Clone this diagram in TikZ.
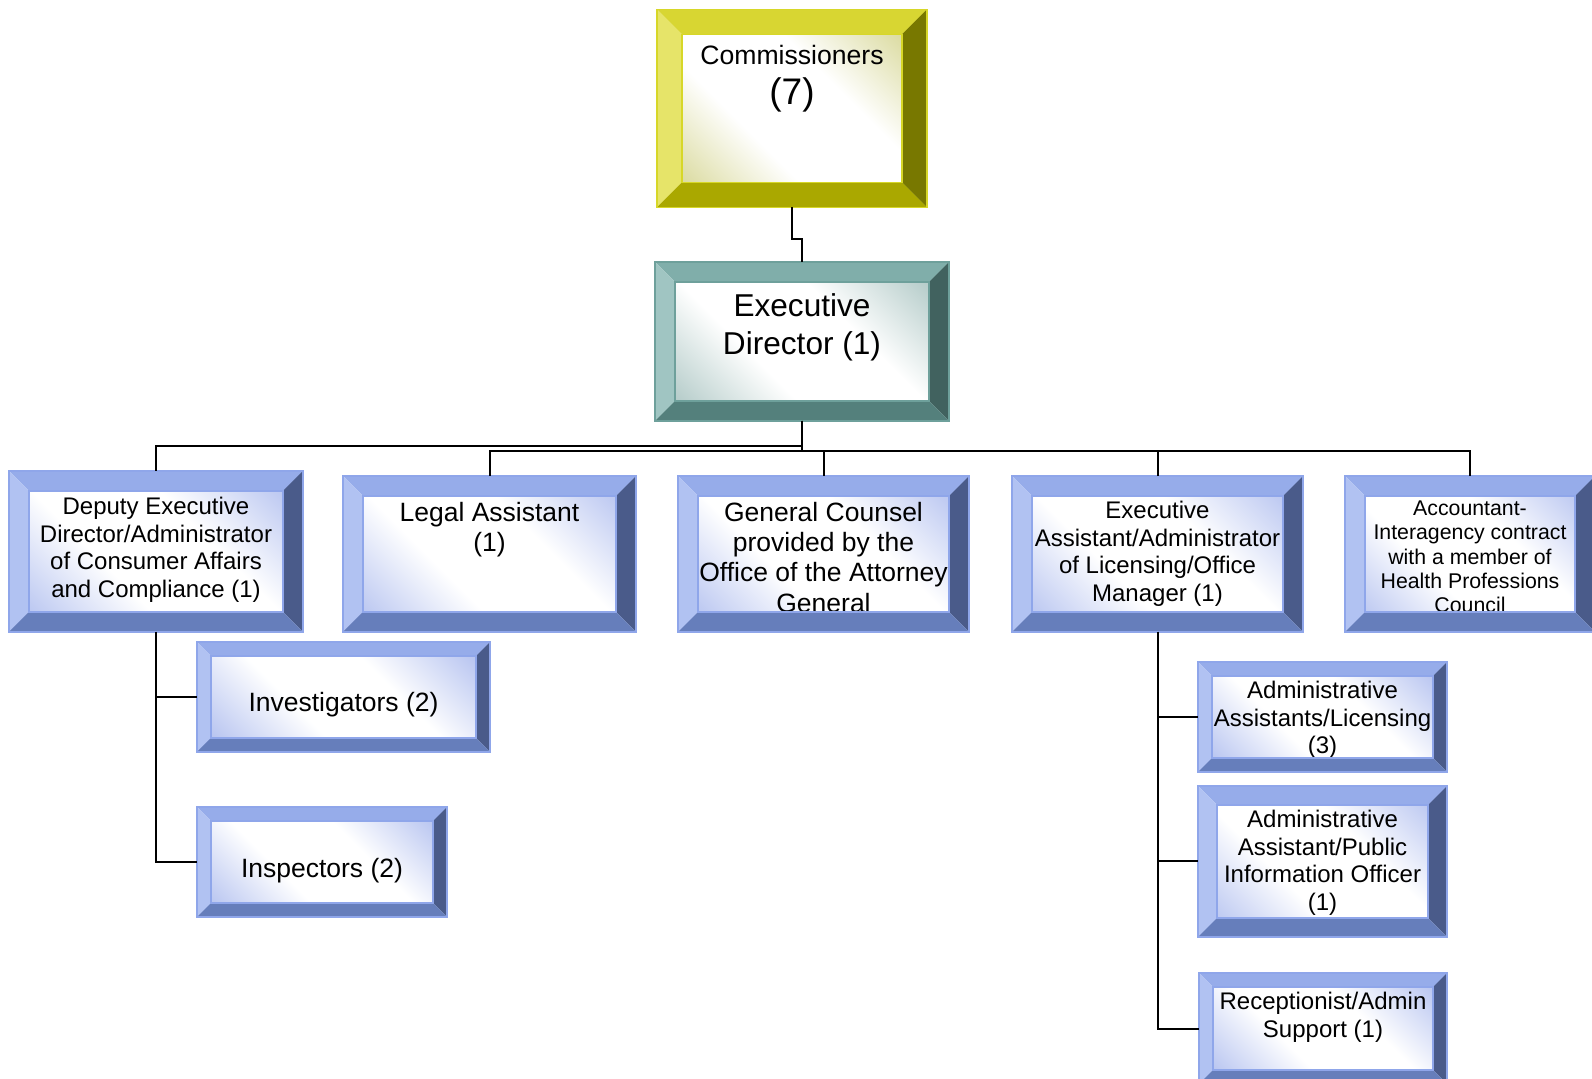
\documentclass[tikz,border=0pt]{standalone}
\usepackage{fontspec}
\setmainfont{Liberation Sans}
\usetikzlibrary{positioning}
% bevel colours: T top, L left, R right, B bottom, C inner corner
\definecolor{bluT}{RGB}{150,172,234}
\definecolor{bluL}{RGB}{177,194,242}
\definecolor{bluR}{RGB}{74,91,138}
\definecolor{bluB}{RGB}{102,126,187}
\definecolor{bluLine}{RGB}{143,166,234}
\definecolor{bluC}{RGB}{115,140,226}
\definecolor{tealT}{RGB}{128,174,170}
\definecolor{tealL}{RGB}{160,197,194}
\definecolor{tealR}{RGB}{65,98,95}
\definecolor{tealB}{RGB}{84,128,124}
\definecolor{tealLine}{RGB}{110,160,155}
\definecolor{tealC}{RGB}{100,148,143}
\definecolor{yelT}{RGB}{216,214,50}
\definecolor{yelL}{RGB}{230,228,105}
\definecolor{yelR}{RGB}{120,120,0}
\definecolor{yelB}{RGB}{170,168,0}
\definecolor{yelLine}{RGB}{215,215,40}
\definecolor{yelC}{RGB}{175,175,45}
\pgfdeclarehorizontalshading{bluShade}{100bp}{color(0bp)=(bluC); color(40bp)=(white); color(60bp)=(white); color(100bp)=(bluC)}
\pgfdeclarehorizontalshading{tealShade}{100bp}{color(0bp)=(tealC); color(40bp)=(white); color(60bp)=(white); color(100bp)=(tealC)}
\pgfdeclarehorizontalshading{yelShade}{100bp}{color(0bp)=(yelC); color(40bp)=(white); color(60bp)=(white); color(100bp)=(yelC)}
\begin{document}
\begin{tikzpicture}[x=0.5pt,y=-0.5pt,
  box/.style={rectangle,inner sep=0pt,outer sep=0pt,shade,shading angle=45},
  bluebox/.style={box,shading=bluShade},
  tealbox/.style={box,shading=tealShade},
  yelbox/.style={box,shading=yelShade},
  txt/.style={inner sep=0pt,outer sep=0pt,align=center},
  smalltxt/.style={txt,font=\fontsize{12}{13.9}\selectfont},
  midtxt/.style={txt,font=\fontsize{13.25}{15.2}\selectfont},
  link/.style={line width=1pt}]
\useasboundingbox (0,0) rectangle (1592,1079);
% boxes
\node[yelbox,minimum width=135pt,minimum height=99pt] (comm) at (792,108.5) {};
\node[tealbox,minimum width=147pt,minimum height=79.5pt] (ed) at (802,341.5) {};
\node[bluebox,minimum width=147pt,minimum height=80.5pt] (dep) at (156,551.5) {};
\node[bluebox,minimum width=146.5pt,minimum height=78pt] (legal) at (489.5,554) {};
\node[bluebox,minimum width=145.5pt,minimum height=78pt] (gc) at (823.5,554) {};
\node[bluebox,minimum width=145.5pt,minimum height=78pt] (ea) at (1157.5,554) {};
\node[bluebox,minimum width=125pt,minimum height=78pt] (acct) at (1470,554) {};
\node[bluebox,minimum width=146.5pt,minimum height=55pt] (inv) at (343.5,697) {};
\node[bluebox,minimum width=125pt,minimum height=55pt] (insp) at (322,862) {};
\node[bluebox,minimum width=124.5pt,minimum height=55pt] (aal) at (1322.5,717) {};
\node[bluebox,minimum width=124.5pt,minimum height=75.5pt] (pio) at (1322.5,861.5) {};
\node[bluebox,minimum width=124pt,minimum height=55.5pt] (rec) at (1323,1028.5) {};
% texts
\node[txt,font=\fontsize{13.3}{19.7}\selectfont,below=18pt of comm.north] (commtxt) {Commissioners\\{\fontsize{18.5}{19.7}\selectfont(7)}};
\node[txt,font=\fontsize{15.8}{18.8}\selectfont,below=16pt of ed.north] (edtxt) {Executive\\Director (1)};
\node[smalltxt,below=13pt of dep.north] (deptxt) {Deputy Executive\\Director/Administrator\\of Consumer Affairs\\and Compliance (1)};
\node[midtxt,below=13pt of legal.north] (legaltxt) {Legal Assistant\\(1)};
\node[midtxt,below=13pt of gc.north] (gctxt) {General Counsel\\provided by the\\Office of the Attorney\\General};
\node[smalltxt,below=12.5pt of ea.north] (eatxt) {Executive\\Assistant/Administrator\\of Licensing/Office\\Manager (1)};
\node[txt,font=\fontsize{10.65}{12.15}\selectfont,below=12.5pt of acct.north] (accttxt) {Accountant-\\Interagency contract\\with a member of\\Health Professions\\Council};
\node[midtxt,below=25pt of inv.north] (invtxt) {Investigators (2)};
\node[midtxt,below=25.5pt of insp.north] (insptxt) {Inspectors (2)};
\node[smalltxt,below=9.5pt of aal.north] (aaltxt) {Administrative\\Assistants/Licensing\\(3)};
\node[smalltxt,below=12pt of pio.north] (piotxt) {Administrative\\Assistant/Public\\Information Officer\\(1)};
\node[smalltxt,below=9.5pt of rec.north] (rectxt) {Receptionist/Admin\\Support (1)};
% bevels
\foreach \n/\b/\col in {comm/25/yel,ed/20/teal,dep/20/blu,legal/20/blu,gc/20/blu,ea/20/blu,acct/20/blu,inv/14/blu,insp/14/blu,aal/14/blu,pio/19/blu,rec/14/blu}{
  \fill[fill=\col T] (\n.north west) -- (\n.north east) -- ([shift={(-\b,\b)}]\n.north east) -- ([shift={(\b,\b)}]\n.north west) -- cycle;
  \fill[fill=\col L] (\n.north west) -- ([shift={(\b,\b)}]\n.north west) -- ([shift={(\b,-\b)}]\n.south west) -- (\n.south west) -- cycle;
  \fill[fill=\col R] (\n.north east) -- (\n.south east) -- ([shift={(-\b,-\b)}]\n.south east) -- ([shift={(-\b,\b)}]\n.north east) -- cycle;
  \fill[fill=\col B] (\n.south west) -- (\n.south east) -- ([shift={(-\b,-\b)}]\n.south east) -- ([shift={(\b,-\b)}]\n.south west) -- cycle;
  \draw[draw=\col Line,line width=0.6pt] (\n.north west) rectangle (\n.south east)
    ([shift={(\b,\b)}]\n.north west) rectangle ([shift={(-\b,-\b)}]\n.south east);
}
% connectors
\draw[link] (comm.south) -- ++(0,32) -| (ed.north);
\draw[link] (ed.south) -- ++(0,25) -| (dep.north);
\foreach \n in {legal,gc,ea,acct}
  \draw[link] (ed.south) -- ++(0,30) -| (\n.north);
\foreach \n in {inv,insp}
  \draw[link] (dep.south) |- (\n.west);
\foreach \n in {aal,pio,rec}
  \draw[link] (ea.south) |- (\n.west);
\end{tikzpicture}
\end{document}
